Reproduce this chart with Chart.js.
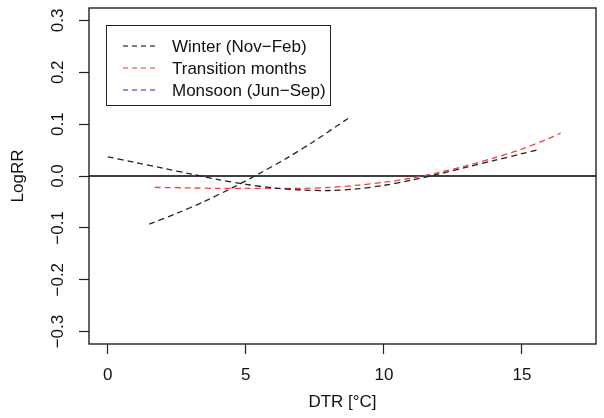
<!DOCTYPE html>
<html>
<head>
<meta charset="utf-8">
<script src="https://cdn.jsdelivr.net/npm/chart.js@4.4.0/dist/chart.umd.min.js"></script>
<style>
  html, body { margin: 0; padding: 0; background: #fff; }
  canvas { display: block; }
</style>
</head>
<body>
<canvas id="myChart" width="604" height="418"></canvas>
<script>
// values
var winter_x = [0, 1, 2, 3, 4, 5, 6, 7, 8, 9, 10, 11, 12, 13, 14, 15, 15.6];
var winter_y = [0.037, 0.026, 0.015, 0.004, -0.007, -0.016, -0.023, -0.027, -0.028, -0.025, -0.018, -0.008, 0.004, 0.017, 0.030, 0.043, 0.051];
var trans_x = [1.7, 3, 4, 5, 6, 7, 8, 9, 10, 11, 12, 13, 14, 15, 16, 16.4];
var trans_y = [-0.022, -0.023, -0.024, -0.024, -0.024, -0.024, -0.022, -0.018, -0.012, -0.004, 0.007, 0.020, 0.035, 0.052, 0.073, 0.083];
var monsoon_x = [1.5, 2.5, 3.5, 4.5, 5.5, 6.5, 7.5, 8.7];
var monsoon_y = [-0.093, -0.072, -0.049, -0.023, 0.005, 0.035, 0.068, 0.111];
var x_ticks = [0, 5, 10, 15];
var y_ticks = [-0.3, -0.2, -0.1, 0.0, 0.1, 0.2, 0.3];
var legend_labels = ['Winter (Nov\u2212Feb)', 'Transition months', 'Monsoon (Jun\u2212Sep)'];
var legend_colors = ['#000000', '#ff3030', '#2020c0'];

var FONT = "'Liberation Sans', Arial, sans-serif";
var FSIZE = 17;

function pairs(xs, ys) {
    let out = [];
    for (let i = 0; i < xs.length; i++) out.push({ x: xs[i], y: ys[i] });
    return out;
}

var rPlot = {
    id: 'rPlot',
    beforeDatasetsDraw(chart) {
        let ctx = chart.ctx, a = chart.chartArea;
        let y0 = chart.scales.y.getPixelForValue(0);
        ctx.save();
        ctx.strokeStyle = '#000';
        ctx.lineWidth = 1.3;
        ctx.beginPath();
        ctx.moveTo(a.left, y0);
        ctx.lineTo(a.right, y0);
        ctx.stroke();
        ctx.restore();
    },
    afterDraw(chart) {
        let ctx = chart.ctx, a = chart.chartArea;
        ctx.save();
        // box
        ctx.strokeStyle = '#111';
        ctx.lineWidth = 1.3;
        ctx.strokeRect(a.left, a.top, a.right - a.left, a.bottom - a.top);
        // y tick labels, rotated like R
        ctx.fillStyle = '#111';
        ctx.font = FSIZE + 'px ' + FONT;
        ctx.textAlign = 'center';
        ctx.textBaseline = 'middle';
        let ys = chart.scales.y;
        for (let i = 0; i < y_ticks.length; i++) {
            let py = ys.getPixelForValue(y_ticks[i]);
            ctx.save();
            ctx.translate(58, py);
            ctx.rotate(-Math.PI / 2);
            ctx.fillText(y_ticks[i].toFixed(1).replace('-', '\u2212'), 0, 0);
            ctx.restore();
        }
        // legend
        ctx.strokeStyle = '#222';
        ctx.lineWidth = 1;
        ctx.strokeRect(106.5, 25.5, 224, 80);
        ctx.textAlign = 'left';
        for (let i = 0; i < legend_labels.length; i++) {
            let ly = 46 + i * 22;
            ctx.strokeStyle = legend_colors[i];
            ctx.lineWidth = 1.2;
            ctx.setLineDash([5, 4]);
            ctx.beginPath();
            ctx.moveTo(123, ly);
            ctx.lineTo(155, ly);
            ctx.stroke();
            ctx.setLineDash([]);
            ctx.fillStyle = '#111';
            ctx.fillText(legend_labels[i], 172, ly + 1);
        }
        ctx.restore();
    }
};

var ctx = document.getElementById('myChart');
var chart = new Chart(ctx, {
    type: 'line',
    data: {
        datasets: [
            {
                label: legend_labels[0],
                data: pairs(winter_x, winter_y),
                borderColor: '#222',
                borderWidth: 1.3,
                borderDash: [6, 4],
                pointRadius: 0,
                tension: 0.3,
                fill: false
            },
            {
                label: legend_labels[1],
                data: pairs(trans_x, trans_y),
                borderColor: '#f04040',
                borderWidth: 1.3,
                borderDash: [6, 4],
                pointRadius: 0,
                tension: 0.3,
                fill: false
            },
            {
                label: legend_labels[2],
                data: pairs(monsoon_x, monsoon_y),
                borderColor: '#262630',
                borderWidth: 1.3,
                borderDash: [6, 4],
                pointRadius: 0,
                tension: 0.3,
                fill: false
            }
        ]
    },
    options: {
        responsive: false,
        animation: false,
        devicePixelRatio: 1,
        layout: { padding: { top: 8, right: 8, left: 0, bottom: 0 } },
        plugins: { legend: { display: false }, tooltip: { enabled: false } },
        scales: {
            x: {
                type: 'linear',
                min: -0.68,
                max: 17.68,
                afterBuildTicks: function (s) { s.ticks = x_ticks.map(v => ({ value: v })); },
                afterFit: function (s) { s.height = 74; },
                grid: { drawOnChartArea: false, drawTicks: true, tickLength: 10, tickColor: '#222', tickWidth: 1.2 },
                border: { display: false },
                ticks: { color: '#111', font: { size: FSIZE, family: FONT }, padding: 11, maxRotation: 0 },
                title: { display: true, text: 'DTR [\u00b0C]', color: '#111', font: { size: FSIZE, family: FONT }, padding: { top: 0, bottom: 5 } }
            },
            y: {
                type: 'linear',
                min: -0.324,
                max: 0.324,
                afterBuildTicks: function (s) { s.ticks = y_ticks.map(v => ({ value: v })); },
                afterFit: function (s) { s.width = 89; },
                grid: { drawOnChartArea: false, drawTicks: true, tickLength: 10, tickColor: '#222', tickWidth: 1.2 },
                border: { display: false },
                ticks: { display: false },
                title: { display: true, text: 'LogRR', color: '#111', font: { size: FSIZE, family: FONT }, padding: { top: 8, bottom: 0 } }
            }
        }
    },
    plugins: [rPlot]
});
</script>
</body>
</html>
